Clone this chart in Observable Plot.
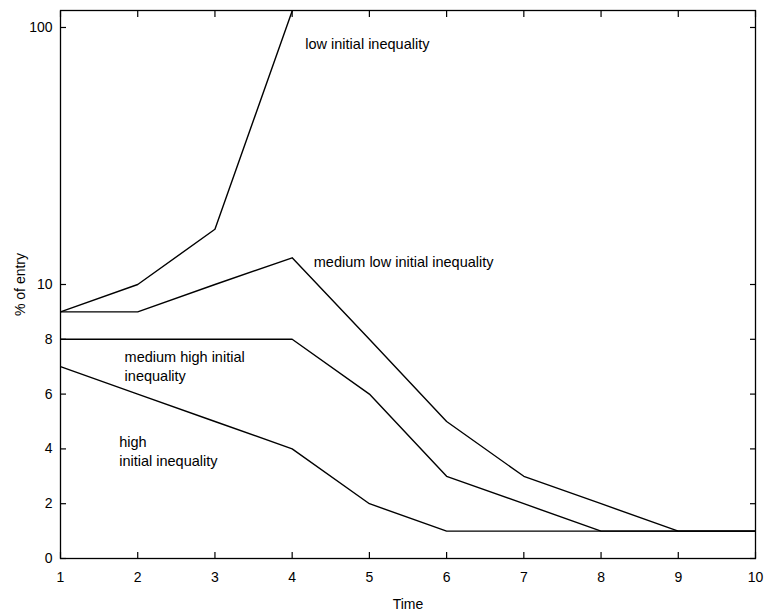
<!DOCTYPE html>
<html>
<head>
<meta charset="utf-8">
<script src="https://cdn.jsdelivr.net/npm/d3@7"></script>
<script src="https://cdn.jsdelivr.net/npm/@observablehq/plot@0.6"></script>
<style>
body { margin: 0; background: #fff; }
svg { font-family: "Liberation Sans", Arial, sans-serif; }
</style>
</head>
<body>
<div id="chart"></div>
<script>
const time = [1, 2, 3, 4, 5, 6, 7, 8, 9, 10];
const lowIneq = [9, 10, 16.4, 116];
const mediumLowIneq = [9, 9, 10, 12.7, 8, 5, 3, 2, 1, 1];
const mediumHighIneq = [8, 8, 8, 8, 6, 3, 2, 1, 1, 1];
const highIneq = [7, 6, 5, 4, 2, 1, 1, 1, 1, 1];

const yTickValues = [0, 2, 4, 6, 8, 10, 100];
const xTickValues = [1, 2, 3, 4, 5, 6, 7, 8, 9, 10];

const labelTexts = ["low initial inequality", "medium low initial inequality", "medium high initial\ninequality", "high\ninitial inequality"];
const labelX = [4.17, 4.28, 1.83, 1.76];
const labelY = [87, 12.4, 7.04, 3.94];

// piecewise y: linear 0..10, logarithmic above 10
const DECADE = 9.38;
const fy = v => v <= 10 ? v : 10 + DECADE * Math.log10(v / 10);

const series = [
  {name: "low", values: lowIneq},
  {name: "medium low", values: mediumLowIneq},
  {name: "medium high", values: mediumHighIneq},
  {name: "high", values: highIneq}
];
const rows = series.flatMap(s => s.values.map((v, i) => ({series: s.name, t: time[i], v})));
const labels = labelTexts.map((text, i) => ({text, x: labelX[i], y: labelY[i]}));
const yTicksT = yTickValues.map(fy);
const TL = 6;
const blank = () => "";

const chart = Plot.plot({
  width: 768,
  height: 615,
  marginTop: 10,
  marginBottom: 57,
  marginLeft: 60,
  marginRight: 13,
  style: {fontSize: "14px", fontFamily: "'Liberation Sans', Arial, sans-serif", color: "#000"},
  x: {domain: [1, 10]},
  y: {domain: [0, 20]},
  marks: [
    Plot.frame({stroke: "#000", strokeWidth: 1.3}),
    Plot.axisX({ticks: xTickValues, tickSize: 0, tickPadding: 14, tickFormat: d => String(d), label: "Time", labelAnchor: "center", labelArrow: "none", labelOffset: 50, fontSize: 14}),
    Plot.axisY({ticks: yTicksT, tickSize: 0, tickPadding: 8, tickFormat: (d, i) => String(yTickValues[i]), label: "% of entry", labelAnchor: "center", labelArrow: "none", labelOffset: 45, fontSize: 14}),
    // inward tick marks on all four sides
    Plot.axisX({ticks: xTickValues, tickSize: TL, dy: -TL, tickFormat: blank, label: null, strokeWidth: 1.2}),
    Plot.axisX({anchor: "top", ticks: xTickValues, tickSize: TL, dy: TL, tickFormat: blank, label: null, strokeWidth: 1.2}),
    Plot.axisY({ticks: yTicksT, tickSize: TL, dx: TL, tickFormat: blank, label: null, strokeWidth: 1.2}),
    Plot.axisY({anchor: "right", ticks: yTicksT, tickSize: TL, dx: -TL, tickFormat: blank, label: null, strokeWidth: 1.2}),
    Plot.line(rows, {x: "t", y: d => fy(d.v), z: "series", stroke: "#000", strokeWidth: 1.4, clip: true}),
    Plot.text(labels, {x: "x", y: d => fy(d.y), text: "text", textAnchor: "start", lineAnchor: "middle", fontSize: 14.5, lineHeight: 1.31, fill: "#000"})
  ]
});
document.getElementById("chart").appendChild(chart);
</script>
</body>
</html>
